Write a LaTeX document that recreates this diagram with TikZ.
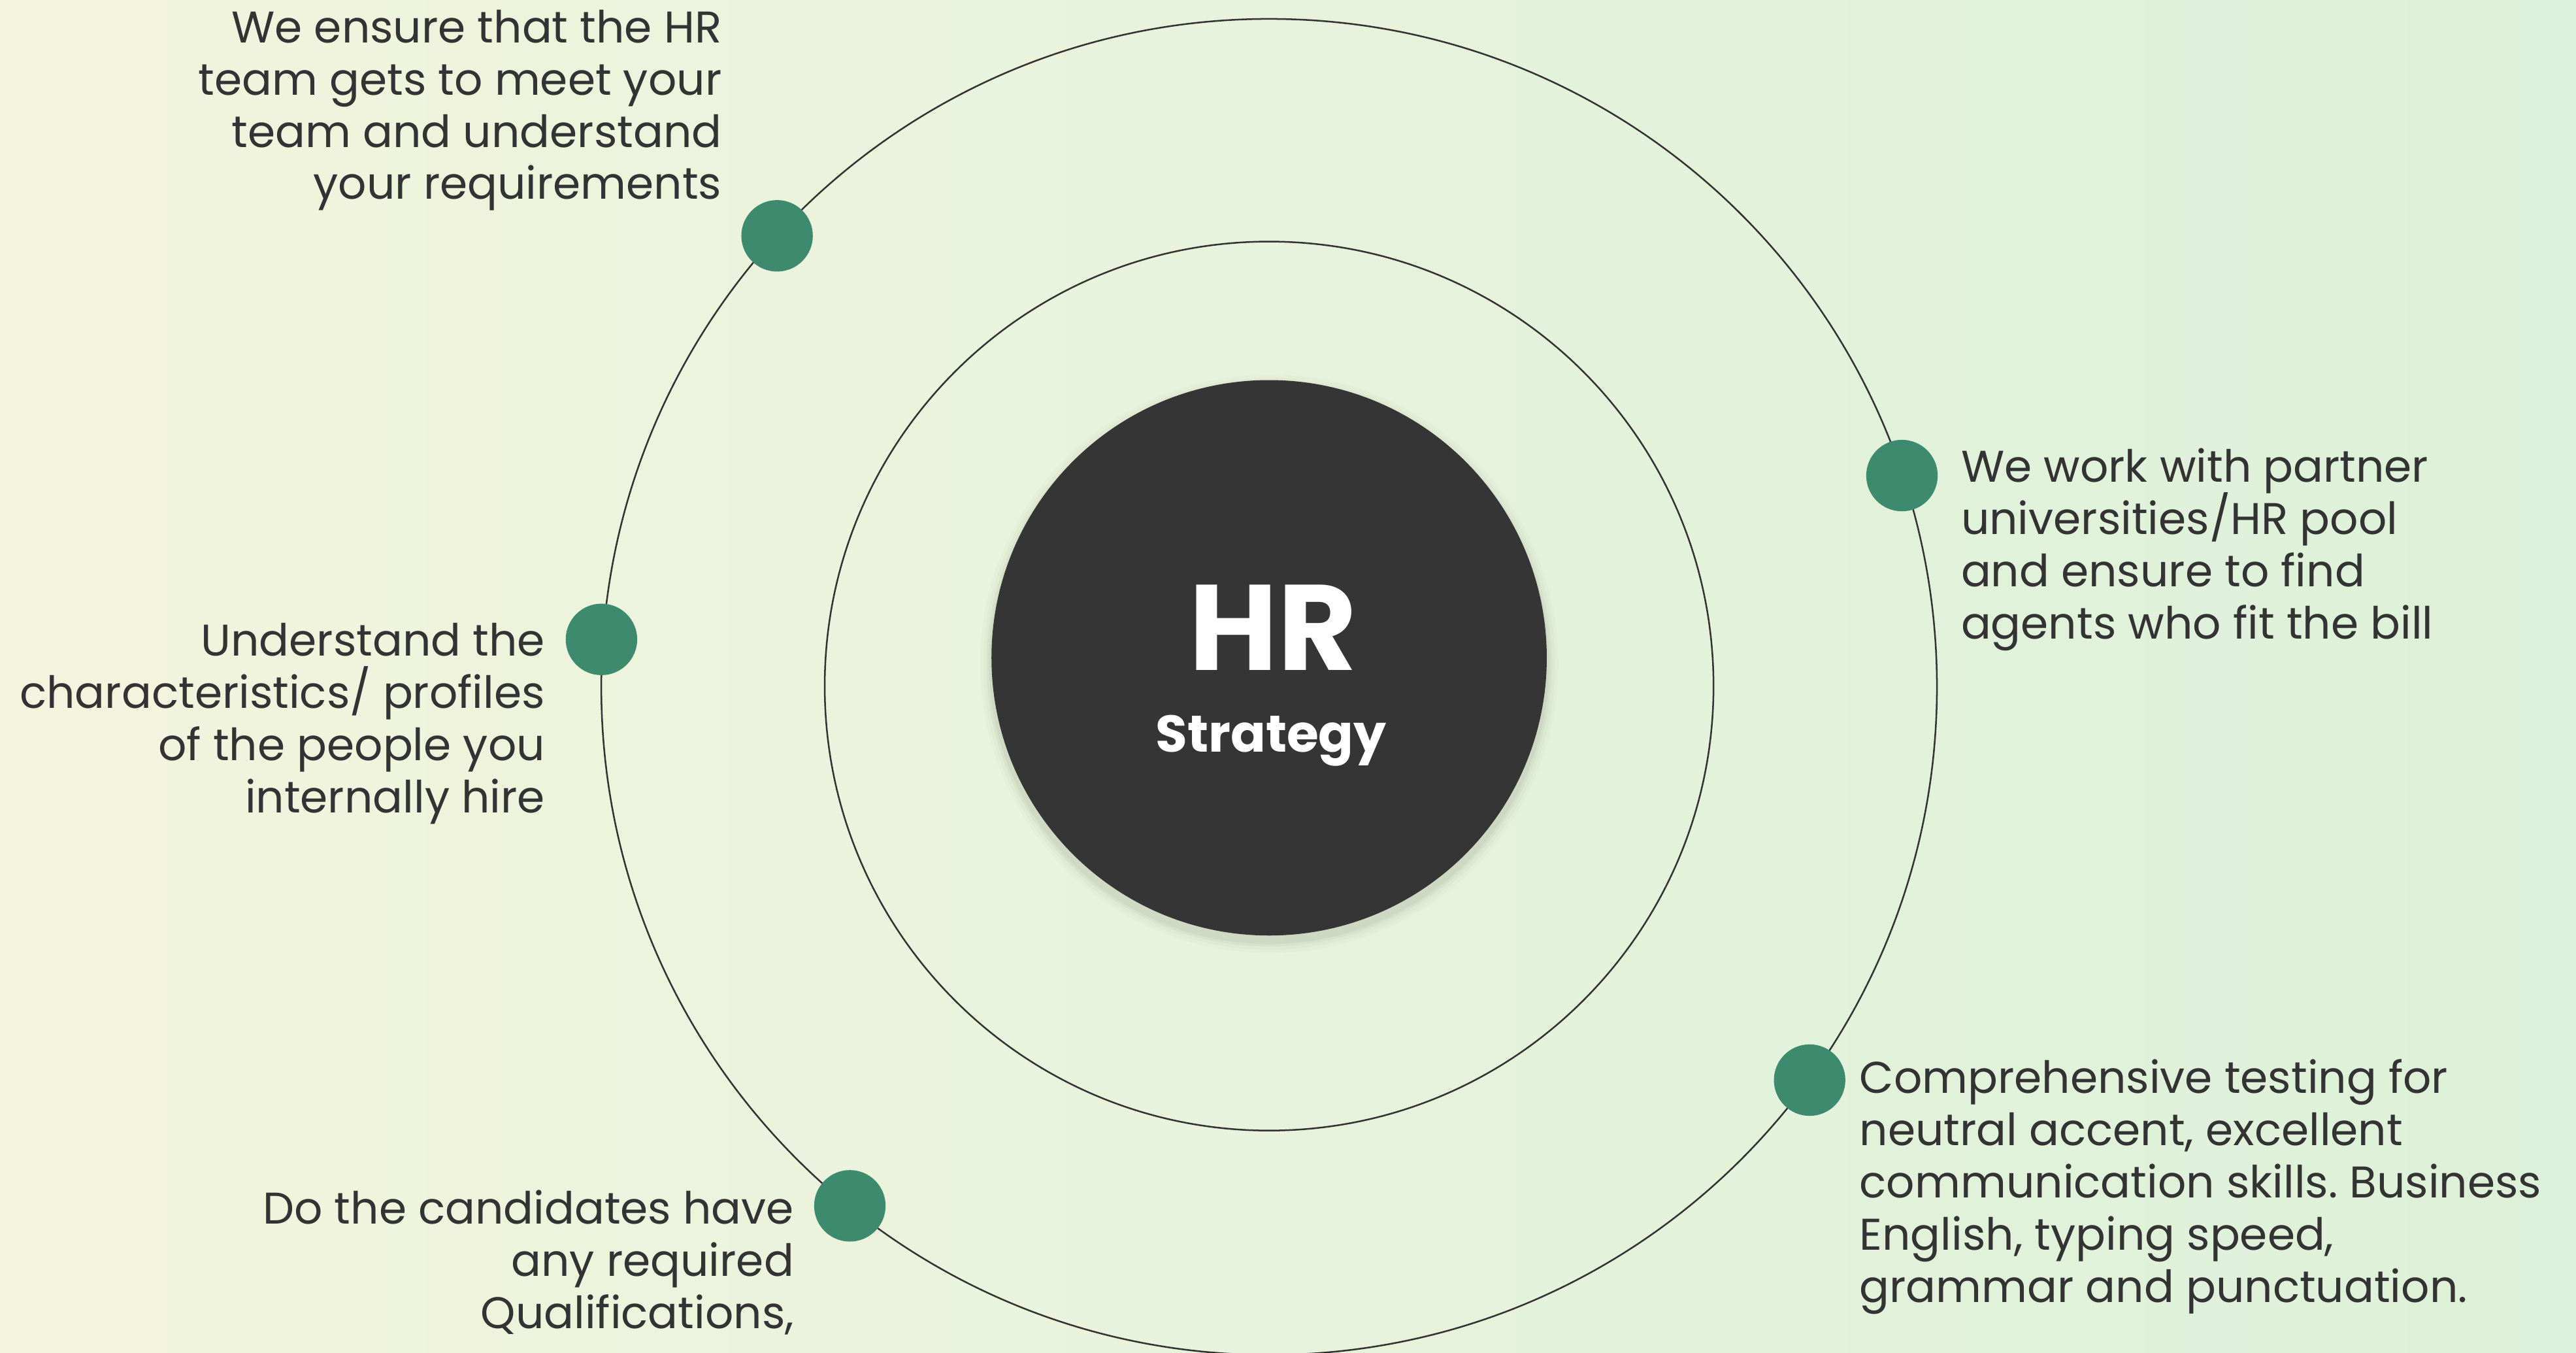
\documentclass[tikz,border=0pt]{standalone}
\usepackage{fontspec}
\setmainfont{Poppins}
\frenchspacing
\definecolor{bgA}{HTML}{F3F4DD}
\definecolor{bgB}{HTML}{DCF1D9}
\definecolor{ink}{HTML}{333333}
\definecolor{dotc}{HTML}{3D8A6E}
\definecolor{hubc}{HTML}{353535}
\newcommand\rlines[1]{\begin{tabular}[t]{@{}r@{}}#1\end{tabular}}
\newcommand\llines[1]{\begin{tabular}[t]{@{}l@{}}#1\end{tabular}}
\newcommand\slsh{\smash{/}}
\tikzset{
  ring/.style={draw=ink, line width=1pt},
  hub/.style={circle, fill=hubc, inner sep=0pt, minimum size=338pt},
  dotnode/.style={circle, fill=dotc, inner sep=0pt, minimum size=43.5pt},
  lbl/.style={inner sep=0pt, text=ink, font=\fontsize{27}{31.8}\selectfont},
  rlbl/.style={lbl, anchor=base east},
  llbl/.style={lbl, anchor=base west}
}
\begin{document}
\begin{tikzpicture}[x=1pt,y=-1pt]
\useasboundingbox (0,0) rectangle (1568,823);
\shade[left color=bgA, right color=bgB] (0,0) rectangle (1568,823);
% rings
\draw[ring] (772.5,418) circle[radius=406.5pt];
\draw[ring] (772.5,417.5) circle[radius=270.5pt];
% hub shadow
\foreach \r/\o in {176/0.015,174/0.02,172/0.03,170.5/0.04}{
  \fill[black, opacity=\o] (772.5,404) circle[radius=\r pt];
}
\node[hub] (hub) at (772.5,400.3) {};
\node[text=white, font=\bfseries\fontsize{74}{74}\selectfont, anchor=base, inner sep=0pt] (hr) at (774.8,407.8) {HR};
\node[text=white, font=\bfseries\fontsize{31.5}{31.5}\selectfont, anchor=base, inner sep=0pt] (strat) at (773.7,457.5) {Strategy};
% dots
\node[dotnode] (d1) at (473,143.5) {};
\node[dotnode] (d2) at (1157.7,289.4) {};
\node[dotnode] (d3) at (366.1,389.1) {};
\node[dotnode] (d4) at (1101.5,657.3) {};
\node[dotnode] (d5) at (517.3,733.8) {};
% labels
\node[rlbl] (t1) at (439.5,25.9) {\rlines{We ensure that the HR\\team gets to meet your\\team and understand\\your requirements}};
\node[rlbl] (t3) at (331.9,399.2) {\rlines{Understand the\\characteristics\slsh{} profiles\\of the people you\\internally hire}};
\node[rlbl] (t5) at (483.5,745) {\rlines{Do the candidates have\\any required\\Qualifications,}};
\node[llbl] (t2) at (1193.5,293.3) {\llines{We work with partner\\universities\slsh HR pool\\and ensure to find\\agents who fit the bill}};
\node[llbl] (t4) at (1131.7,665.4) {\llines{Comprehensive testing for\\neutral accent, excellent\\communication skills. Business\\English, typing speed,\\grammar and punctuation.}};
\end{tikzpicture}
\end{document}
